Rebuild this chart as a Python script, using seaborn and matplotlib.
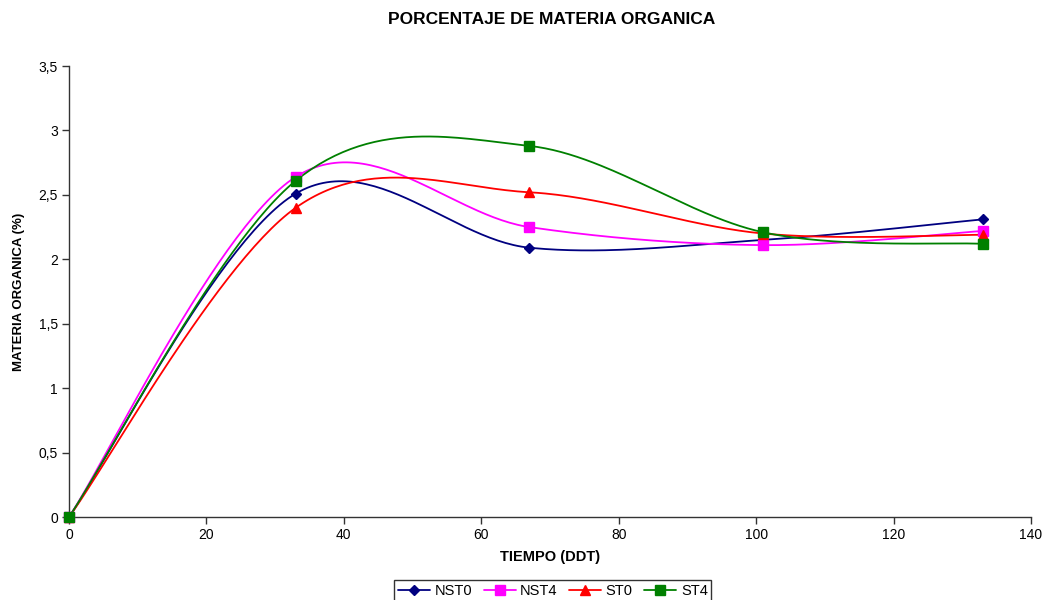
import numpy as np
import pandas as pd
import matplotlib
matplotlib.use("Agg")
import matplotlib.pyplot as plt
from matplotlib.lines import Line2D
from matplotlib.ticker import FuncFormatter, MultipleLocator
import seaborn as sns

# Sampling days (DDT) and organic matter (%) per treatment
days = [0, 33, 67, 101, 133]
nst0 = [0.0, 2.51, 2.09, 2.15, 2.31]
nst4 = [0.0, 2.64, 2.25, 2.11, 2.22]
st0 = [0.0, 2.40, 2.52, 2.20, 2.19]
st4 = [0.0, 2.61, 2.88, 2.21, 2.12]

series_names = ["NST0", "NST4", "ST0", "ST4"]
series_values = [nst0, nst4, st0, st4]
colors = ["#000080", "#FF00FF", "#FF0000", "#008000"]
markers = ["D", "s", "^", "s"]
marker_sizes = [5, 6.5, 6.5, 6.5]


def smooth_curve(xs, ys, n=60):
    """Cubic Bezier smoothing through every point (Catmull-Rom style tangents)."""
    pts = np.column_stack([xs, ys]).astype(float)
    out = []
    m = len(pts)
    for i in range(m - 1):
        p0 = pts[i - 1] if i > 0 else pts[i]
        p1 = pts[i]
        p2 = pts[i + 1]
        p3 = pts[i + 2] if i + 2 < m else pts[i + 1]
        c1 = p1 + (p2 - p0) / 6.0
        c2 = p2 - (p3 - p1) / 6.0
        t = np.linspace(0, 1, n)[:, None]
        seg = ((1 - t) ** 3) * p1 + 3 * ((1 - t) ** 2) * t * c1 + 3 * (1 - t) * t ** 2 * c2 + t ** 3 * p2
        out.append(seg if i == 0 else seg[1:])
    return np.vstack(out)


sns.set_theme(style="white")
plt.rcParams["font.family"] = ["Liberation Sans", "DejaVu Sans"]
plt.rcParams["text.color"] = "black"
plt.rcParams["axes.labelcolor"] = "black"
plt.rcParams["xtick.color"] = "black"
plt.rcParams["ytick.color"] = "black"

fig = plt.figure(figsize=(10.47, 6.0), dpi=100)
ax = fig.add_axes([0.0659, 0.1383, 0.9188, 0.7517])

frames = []
for name, vals in zip(series_names, series_values):
    curve = smooth_curve(days, vals)
    frames.append(pd.DataFrame({"x": curve[:, 0], "y": curve[:, 1], "serie": name}))
curves = pd.concat(frames, ignore_index=True)
points = pd.DataFrame({
    "x": np.tile(days, len(series_names)),
    "y": np.concatenate(series_values),
    "serie": np.repeat(series_names, len(days)),
})

palette = dict(zip(series_names, colors))
sns.lineplot(data=curves, x="x", y="y", hue="serie", palette=palette, sort=False,
             estimator=None, linewidth=1.3, legend=False, ax=ax)
for name, col, mk, ms in zip(series_names, colors, markers, marker_sizes):
    sub = points[points["serie"] == name]
    ax.plot(sub["x"], sub["y"], linestyle="none", marker=mk, color=col,
            markersize=ms, markeredgecolor=col, zorder=5, clip_on=False)

ax.set_xlim(0, 140)
ax.set_ylim(0, 3.5)
ax.xaxis.set_major_locator(MultipleLocator(20))
ax.yaxis.set_major_locator(MultipleLocator(0.5))
ax.yaxis.set_major_formatter(FuncFormatter(lambda v, _: ("%g" % v).replace(".", ",")))

for side in ["top", "right"]:
    ax.spines[side].set_visible(False)
for side in ["left", "bottom"]:
    ax.spines[side].set_color("#333333")
    ax.spines[side].set_linewidth(1.0)
ax.tick_params(axis="both", direction="out", length=5, width=1, color="#333333",
               labelsize=10, labelcolor="black", pad=3, bottom=True, left=True)

ax.set_xlabel("TIEMPO (DDT)", fontsize=10.5, fontweight="bold", labelpad=6, color="black")
ax.set_ylabel("MATERIA ORGANICA (%)", fontsize=9.5, fontweight="bold", color="black")
ax.yaxis.set_label_coords(-0.046, 0.5)
fig.suptitle("PORCENTAJE DE MATERIA ORGANICA", fontsize=12.5, fontweight="bold",
             x=0.527, y=0.98, color="black")

handles = [Line2D([0], [0], color=c, marker=m, markersize=s, markeredgecolor=c, linewidth=1.3)
           for c, m, s in zip(colors, markers, marker_sizes)]
leg = fig.legend(handles, series_names, loc="upper center", bbox_to_anchor=(0.528, 0.033),
                 ncol=4, fontsize=10.5, frameon=True, fancybox=False, handlelength=2.2,
                 handletextpad=0.3, columnspacing=0.8, borderpad=0.25, borderaxespad=0)
leg.get_frame().set_edgecolor("black")
leg.get_frame().set_linewidth(1.0)
for txt in leg.get_texts():
    txt.set_color("black")

fig.savefig("out.png", dpi=100)
